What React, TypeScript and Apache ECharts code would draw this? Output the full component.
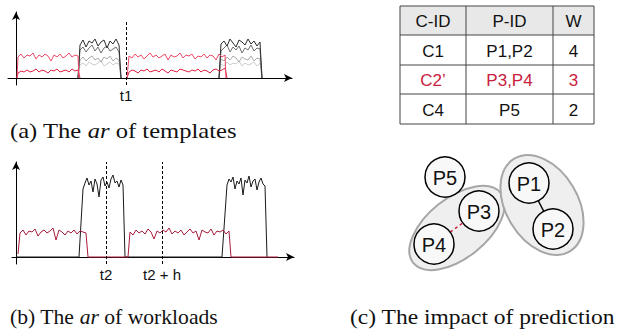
import React, { useEffect, useRef } from "react";
import * as echarts from "echarts";

// ---------- data: (a) the ar of templates ----------
// red (high) template, first and second active period
const redHighA1 = [21, 24, 20, 23, 22, 25, 19, 23, 21, 24, 22, 17, 23, 21, 24, 20, 22, 25, 21, 23, 22];
const redHighA2 = [22, 20, 24, 21, 23, 19, 22, 25, 21, 23, 20, 22, 24, 18, 23, 21, 22, 25, 20, 23, 22, 24, 19, 22, 21, 24, 20, 23, 22, 18, 24, 21, 23];
// red (low) template
const redLowA1 = [5, 7, 6, 8, 6, 7, 9, 6, 8, 7, 5, 8, 7, 9, 6, 7, 8, 6, 9, 7, 8];
const redLowA2 = [6, 8, 7, 5, 8, 7, 9, 6, 7, 8, 6, 9, 7, 5, 8, 7, 6, 9, 8, 7, 6, 8, 7, 9, 6, 8, 7, 5, 8, 9, 7, 8, 10];
// grey templates (two bursts each)
const grayDarkA1 = [33, 38, 31, 37, 35, 39, 32, 36, 38, 30, 37, 34, 39, 33];
const grayDarkA2 = [34, 37, 32, 39, 35, 31, 38, 36, 33, 39, 34, 37, 32, 36];
const grayMidA1 = [28, 31, 26, 30, 33, 27, 31, 25, 30, 32, 27, 29, 31, 26];
const grayMidA2 = [27, 30, 33, 26, 31, 28, 32, 25, 30, 28, 33, 27, 30, 29];
const grayLightA1 = [18, 21, 17, 20, 22, 18, 20, 16, 21, 19, 22, 17, 20, 18];
const grayLightA2 = [19, 17, 21, 18, 22, 20, 16, 21, 19, 18, 22, 17, 20, 19];
const grayPaleA1 = [13, 15, 12, 16, 14, 13, 15, 17, 12, 14, 16, 13, 15, 14];
const grayPaleA2 = [14, 12, 16, 13, 15, 14, 17, 12, 15, 13, 14, 16, 12, 15];
const markA = [{ t: 110, label: "t1" }];

// ---------- data: (b) the ar of workloads ----------
const redB1 = [24, 27, 22, 26, 25, 28, 21, 25, 27, 24, 26, 29, 17, 27, 25, 22, 26, 24, 27, 23, 26, 25, 24];
const redB2 = [25, 22, 27, 24, 26, 23, 28, 25, 18, 26, 24, 27, 25, 29, 23, 26, 24, 27, 22, 25, 28, 24, 26, 17, 27, 25, 24, 28, 22, 26, 25, 27, 23, 26];
const blackB1 = [68, 74, 79, 72, 76, 65, 78, 73, 60, 77, 80, 71, 75, 69, 78, 82, 74, 76, 70, 77, 72];
const blackB2 = [72, 78, 75, 80, 68, 76, 73, 79, 62, 77, 74, 81, 70, 76, 78, 67, 75, 79, 73, 71];
const markB = [{ t: 90, label: "t2" }, { t: 146, label: "t2 + h" }];

// ---------- data: (c) the impact of prediction ----------
const tableHeader = ["C-ID", "P-ID", "W"];
const tableRows = [
  ["C1", "P1,P2", "4"],
  ["C2\u2019", "P3,P4", "3"],
  ["C4", "P5", "2"],
];
const highlightedRow = 1;
const nodeNames = ["P1", "P2", "P3", "P4", "P5"];
const solidEdges = [["P1", "P2"]];
const predictedEdges = [["P4", "P3"]];
const captions = [
  { pre: "(a) The ", it: "ar", post: " of templates" },
  { pre: "(b) The ", it: "ar", post: " of workloads" },
  { pre: "(c) The impact of prediction", it: "", post: "" },
];

// ---------- layout / style ----------
const SANS = "Liberation Sans, Arial, Helvetica, sans-serif";
const SERIF = "Liberation Serif, Times New Roman, serif";
const nodeLayout: Record<string, [number, number]> = {
  P1: [529, 183],
  P2: [553, 229],
  P3: [479, 211],
  P4: [434, 244],
  P5: [445, 177],
};
const NODE_R = 20;
const blobLayout = [
  { cx: 457, cy: 228, rx: 56, ry: 30, rot: 0.675 },
  { cx: 542, cy: 205, rx: 54, ry: 36, rot: -1.03 },
];
const tableBox = { colX: [400, 466, 553, 594], rowY: [6, 35, 65, 94, 124] };
const captionPos = [
  { x: 10, y: 131, sx: 1.17 },
  { x: 10, y: 317, sx: 1.03 },
  { x: 350, y: 317, sx: 1.12 },
];

const seg = (t0: number, dt: number, vals: number[]) => vals.map((v, i) => [t0 + i * dt, v]);

function buildOption() {
  const lineBase = (color: string, data: number[][], xi: number, z = 2) => ({
    type: "line",
    xAxisIndex: xi,
    yAxisIndex: xi,
    data,
    symbol: "none",
    z,
    silent: true,
    lineStyle: { color, width: 1 },
  });
  const grayA = (color: string, a1: number[], a2: number[]) => [
    lineBase(color, [[62, 0], ...seg(64, 3, a1), [105, 0]], 0),
    lineBase(color, [[203, 0], ...seg(205, 3, a2), [246, 0]], 0),
  ];
  const markLineFor = (marks: { t: number; label: string }[], y0: number, y1: number) => ({
    symbol: "none",
    silent: true,
    lineStyle: { type: [3, 2], color: "#000", width: 1 },
    label: {
      show: true,
      position: "start",
      distance: 3,
      color: "#111",
      fontFamily: SANS,
      fontSize: 15,
      formatter: (p: any) => p.name,
    },
    data: marks.map((m) => [
      { name: m.label, coord: [m.t, y0] },
      { coord: [m.t, y1] },
    ]),
  });

  const series: any[] = [
    ...grayA("#cccccc", grayPaleA1, grayPaleA2),
    ...grayA("#aaaaaa", grayLightA1, grayLightA2),
    ...grayA("#6e6e6e", grayMidA1, grayMidA2),
    ...grayA("#2e2e2e", grayDarkA1, grayDarkA2),
    lineBase("#dd2244", [[1, 0], ...seg(2, 3, redLowA1), [64, 0]], 0, 3),
    lineBase("#dd2244", [[111, 0], ...seg(113, 3, redLowA2), [211, 0]], 0, 3),
    lineBase("#f04a68", [[1, 0], ...seg(2, 3, redHighA1), [63, 0]], 0, 3),
    {
      ...lineBase("#f04a68", [[111, 0], ...seg(113, 3, redHighA2), [210, 0]], 0, 3),
      markLine: markLineFor(markA, -7, 56),
    },
    lineBase("#1a1a1a", [[0, 0], [63, 0], ...seg(67, 2, blackB1), [109, 0], [206, 0], ...seg(211, 2, blackB2), [251, 0]], 1),
    {
      ...lineBase("#a81c3c", [[2, 3], ...seg(4, 3, redB1), [72, 0], [112, 0], ...seg(114, 3, redB2), [215, 0], [262, 0]], 1, 3),
      markLine: markLineFor(markB, -7, 95),
    },
  ];

  const axisLine = {
    show: true,
    onZero: true,
    symbol: ["none", "arrow"],
    symbolSize: [6, 8],
    lineStyle: { color: "#000", width: 1 },
  };
  const hidden = {
    axisTick: { show: false },
    axisLabel: { show: false },
    splitLine: { show: false },
  };

  // ---- graphic: table ----
  const g: any[] = [];
  const { colX, rowY } = tableBox;
  g.push({
    type: "rect",
    shape: { x: colX[0], y: rowY[0], width: colX[3] - colX[0], height: rowY[1] - rowY[0] },
    style: { fill: "#e8e8e8" },
    silent: true,
  });
  for (const y of rowY)
    g.push({ type: "line", shape: { x1: colX[0], y1: y, x2: colX[3], y2: y }, style: { stroke: "#444", lineWidth: 1 } });
  for (const x of colX)
    g.push({ type: "line", shape: { x1: x, y1: rowY[0], x2: x, y2: rowY[4] }, style: { stroke: "#444", lineWidth: 1 } });
  const allRows = [tableHeader, ...tableRows];
  allRows.forEach((row, ri) => {
    row.forEach((cell, ci) => {
      g.push({
        type: "text",
        x: (colX[ci] + colX[ci + 1]) / 2,
        y: (rowY[ri] + rowY[ri + 1]) / 2 + 1,
        style: {
          text: cell,
          fill: ri - 1 === highlightedRow ? "#c8203c" : "#111",
          font: `17px ${SANS}`,
          align: "center",
          verticalAlign: "middle",
        },
      });
    });
  });

  // ---- graphic: clusters ----
  for (const b of blobLayout) {
    g.push({
      type: "ellipse",
      x: b.cx,
      y: b.cy,
      rotation: b.rot,
      shape: { cx: 0, cy: 0, rx: b.rx, ry: b.ry },
      style: { fill: "#efefef", stroke: "#a6a6a6", lineWidth: 2 },
    });
  }
  const edgeLine = (a: string, b: string) => {
    const [x1, y1] = nodeLayout[a];
    const [x2, y2] = nodeLayout[b];
    const d = Math.hypot(x2 - x1, y2 - y1);
    const ux = (x2 - x1) / d, uy = (y2 - y1) / d;
    return { x1: x1 + ux * NODE_R, y1: y1 + uy * NODE_R, x2: x2 - ux * NODE_R, y2: y2 - uy * NODE_R };
  };
  for (const [a, b] of solidEdges)
    g.push({ type: "line", shape: edgeLine(a, b), style: { stroke: "#000", lineWidth: 1.5 } });
  for (const [a, b] of predictedEdges)
    g.push({ type: "line", shape: edgeLine(a, b), style: { stroke: "#d0203c", lineWidth: 1.5, lineDash: [3, 3] } });
  for (const n of nodeNames) {
    const [cx, cy] = nodeLayout[n];
    g.push({
      type: "circle",
      shape: { cx, cy, r: NODE_R },
      style: { fill: "#f8f8f8", stroke: "#000", lineWidth: 1.5 },
    });
    g.push({
      type: "text",
      x: cx,
      y: cy + 1,
      style: { text: n, font: `20px ${SANS}`, fill: "#111", align: "center", verticalAlign: "middle" },
    });
  }

  // ---- captions ----
  captions.forEach((c, i) => {
    const text = c.it ? `{n|${c.pre}}{i|${c.it}}{n|${c.post}}` : `{n|${c.pre}}`;
    g.push({
      type: "text",
      x: captionPos[i].x,
      y: captionPos[i].y,
      scaleX: captionPos[i].sx,
      style: {
        text,
        align: "left",
        verticalAlign: "middle",
        rich: {
          n: { fontFamily: SERIF, fontSize: 21, fill: "#111" },
          i: { fontFamily: SERIF, fontSize: 21, fontStyle: "italic", fill: "#111" },
        },
      },
    });
  });

  return {
    animation: false,
    backgroundColor: "#fff",
    grid: [
      { left: 8, top: 12, width: 284, height: 73 },
      { left: 12, top: 162, width: 282, height: 102 },
    ],
    xAxis: [
      { type: "value", gridIndex: 0, min: -8, max: 276, axisLine, ...hidden },
      { type: "value", gridIndex: 1, min: -4, max: 278, axisLine, ...hidden },
    ],
    yAxis: [
      { type: "value", gridIndex: 0, min: -7, max: 66, axisLine, ...hidden },
      { type: "value", gridIndex: 1, min: -7, max: 95, axisLine, ...hidden },
    ],
    series,
    graphic: { elements: g },
  };
}

export default function App() {
  const ref = useRef<HTMLDivElement>(null);
  useEffect(() => {
    if (!ref.current) return;
    const chart = echarts.init(ref.current, undefined, { renderer: "svg" });
    chart.setOption(buildOption() as any);
    return () => chart.dispose();
  }, []);
  return (
    <div
      ref={ref}
      style={{ position: "fixed", left: 0, top: 0, width: 626, height: 329, background: "#fff" }}
    />
  );
}
